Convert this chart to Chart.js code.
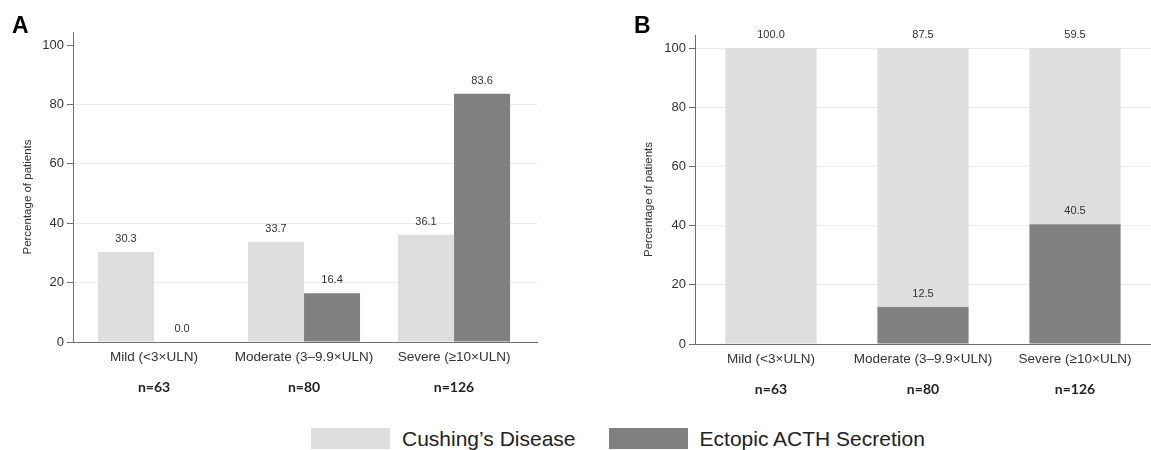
<!DOCTYPE html>
<html><head><meta charset="utf-8">
<script src="https://cdn.jsdelivr.net/npm/chart.js@4/dist/chart.umd.min.js"></script>
<style>
html,body{margin:0;padding:0;background:#fff;width:1151px;height:450px;overflow:hidden;font-family:"Liberation Sans",Arial,sans-serif;}
#wrapA{position:absolute;left:0;top:0;width:560px;height:400px;}
#wrapB{position:absolute;left:580px;top:0;width:571px;height:400px;}
#legend{position:absolute;left:311px;top:428px;height:21px;display:flex;align-items:center;}
.sw{width:79px;height:21px;flex:none;}
.lt{font-size:21px;color:#222;margin-left:12px;margin-right:33px;line-height:21px;white-space:nowrap;}
</style></head>
<body>
<div id="wrapA"><canvas id="cA" width="560" height="400"></canvas></div>
<div id="wrapB"><canvas id="cB" width="571" height="400"></canvas></div>
<div id="legend"></div>
<script>
const categories = ['Mild (<3×ULN)', 'Moderate (3–9.9×ULN)', 'Severe (≥10×ULN)'];
const sampleSizes = ['n=63', 'n=80', 'n=126'];
const seriesNames = ['Cushing’s Disease', 'Ectopic ACTH Secretion'];
const seriesColors = ['#dedede', '#808080'];
const panelA_cushing = [30.3, 33.7, 36.1];
const panelA_ectopic = [0.0, 16.4, 83.6];
const panelB_cushing = [100.0, 87.5, 59.5];
const panelB_ectopic = [0.0, 12.5, 40.5];
const yTicks = [0, 20, 40, 60, 80, 100];
const yTitle = 'Percentage of patients';
const panelLetters = ['A', 'B'];

const FONT = '"Liberation Sans", Arial, sans-serif';

// legend (shared)
const leg = document.getElementById('legend');
seriesNames.forEach((name, i) => {
  const sw = document.createElement('div'); sw.className = 'sw'; sw.style.background = seriesColors[i];
  const t = document.createElement('div'); t.className = 'lt'; t.textContent = name;
  leg.appendChild(sw); leg.appendChild(t);
});

const annotPlugin = {
  id: 'annot',
  afterDatasetsDraw(chart) {
    const o = chart.options.plugins.annot;
    const ctx = chart.ctx;
    const ca = chart.chartArea;
    ctx.save();
    ctx.font = '11px ' + FONT;
    ctx.fillStyle = '#333';
    ctx.textAlign = 'center';
    ctx.textBaseline = 'middle';
    chart.data.datasets.forEach((ds, di) => {
      const meta = chart.getDatasetMeta(di);
      meta.data.forEach((el, j) => {
        const v = ds.data[j].y;
        if (o.hideZero && v === 0) return;
        ctx.fillText(v.toFixed(1), el.x, el.y - 13);
      });
    });
    const xs = chart.scales.x;
    ctx.font = 'bold 14px Lato, "Open Sans", sans-serif';
    ctx.fillStyle = '#222';
    sampleSizes.forEach((s, i) => {
      ctx.fillText(s, xs.getPixelForValue(i), ca.bottom + 45);
    });
    // y-axis title
    ctx.save();
    ctx.translate(o.titleX, (ca.top + ca.bottom) / 2 + 10);
    ctx.rotate(-Math.PI / 2);
    ctx.font = '11.5px ' + FONT;
    ctx.fillStyle = '#333';
    ctx.fillText(yTitle, 0, 0);
    ctx.restore();
    // panel letter
    ctx.font = 'bold 23px ' + FONT;
    ctx.fillStyle = '#000';
    ctx.textAlign = 'left';
    ctx.textBaseline = 'alphabetic';
    ctx.fillText(o.letter, o.letterX, 33);
    ctx.restore();
  }
};

function makeChart(id, cfg) {
  const datasets = cfg.series.map(s => ({
    label: s.name,
    data: s.values.map((v, i) => ({ x: i, y: v })),
    backgroundColor: s.color,
    borderWidth: 0,
    categoryPercentage: cfg.catPct,
    barPercentage: 1.0
  }));
  return new Chart(document.getElementById(id), {
    type: 'bar',
    data: { datasets },
    plugins: [annotPlugin],
    options: {
      responsive: false,
      animation: false,
      layout: { padding: { left: 0, right: cfg.padRight, top: cfg.padTop, bottom: 0 } },
      plugins: {
        legend: { display: false },
        tooltip: { enabled: false },
        annot: { hideZero: cfg.hideZero, letter: cfg.letter, letterX: cfg.letterX, titleX: cfg.titleX }
      },
      scales: {
        x: {
          type: 'linear',
          offset: false,
          stacked: cfg.stacked,
          min: cfg.xMin, max: cfg.xMax,
          afterBuildTicks: s => { s.ticks = categories.map((c, i) => ({ value: i })); },
          afterFit: s => { s.height = cfg.xHeight; },
          ticks: {
            callback: v => categories[v] ?? '',
            autoSkip: false, maxRotation: 0, padding: 7,
            color: '#333', font: { family: FONT, size: 13.5 }
          },
          grid: { display: false, drawTicks: false, offset: false },
          border: { display: true, color: '#6e6e6e', width: 1 }
        },
        y: {
          stacked: cfg.stacked,
          min: 0, max: 104.4,
          afterBuildTicks: s => { s.ticks = yTicks.map(v => ({ value: v })); },
          afterFit: s => { s.width = cfg.yWidth; },
          ticks: { padding: 3, color: '#333', font: { family: FONT, size: 13 } },
          grid: {
            color: c => (cfg.hideTopGrid && c.tick && c.tick.value === 100) ? 'rgba(0,0,0,0)' : '#ececec',
            tickColor: '#6e6e6e', tickLength: 6, lineWidth: 1
          },
          border: { display: true, color: '#6e6e6e', width: 1 },
          title: { display: false }
        }
      }
    }
  });
}

makeChart('cA', {
  series: [
    { name: seriesNames[0], values: panelA_cushing, color: seriesColors[0] },
    { name: seriesNames[1], values: panelA_ectopic, color: seriesColors[1] }
  ],
  stacked: false, catPct: 0.747, xMin: -0.54, xMax: 2.553,
  padRight: 23, padTop: 32, xHeight: 58, yWidth: 73, titleX: 28,
  hideZero: false, hideTopGrid: true, letter: panelLetters[0], letterX: 12
});

makeChart('cB', {
  series: [
    { name: seriesNames[1], values: panelB_ectopic, color: seriesColors[1] },
    { name: seriesNames[0], values: panelB_cushing, color: seriesColors[0] }
  ],
  stacked: true, catPct: 0.6, xMin: -0.5, xMax: 2.5,
  padRight: 0, padTop: 35, xHeight: 56, yWidth: 115, titleX: 69,
  hideZero: true, hideTopGrid: false, letter: panelLetters[1], letterX: 54
});
</script>
</body></html>
